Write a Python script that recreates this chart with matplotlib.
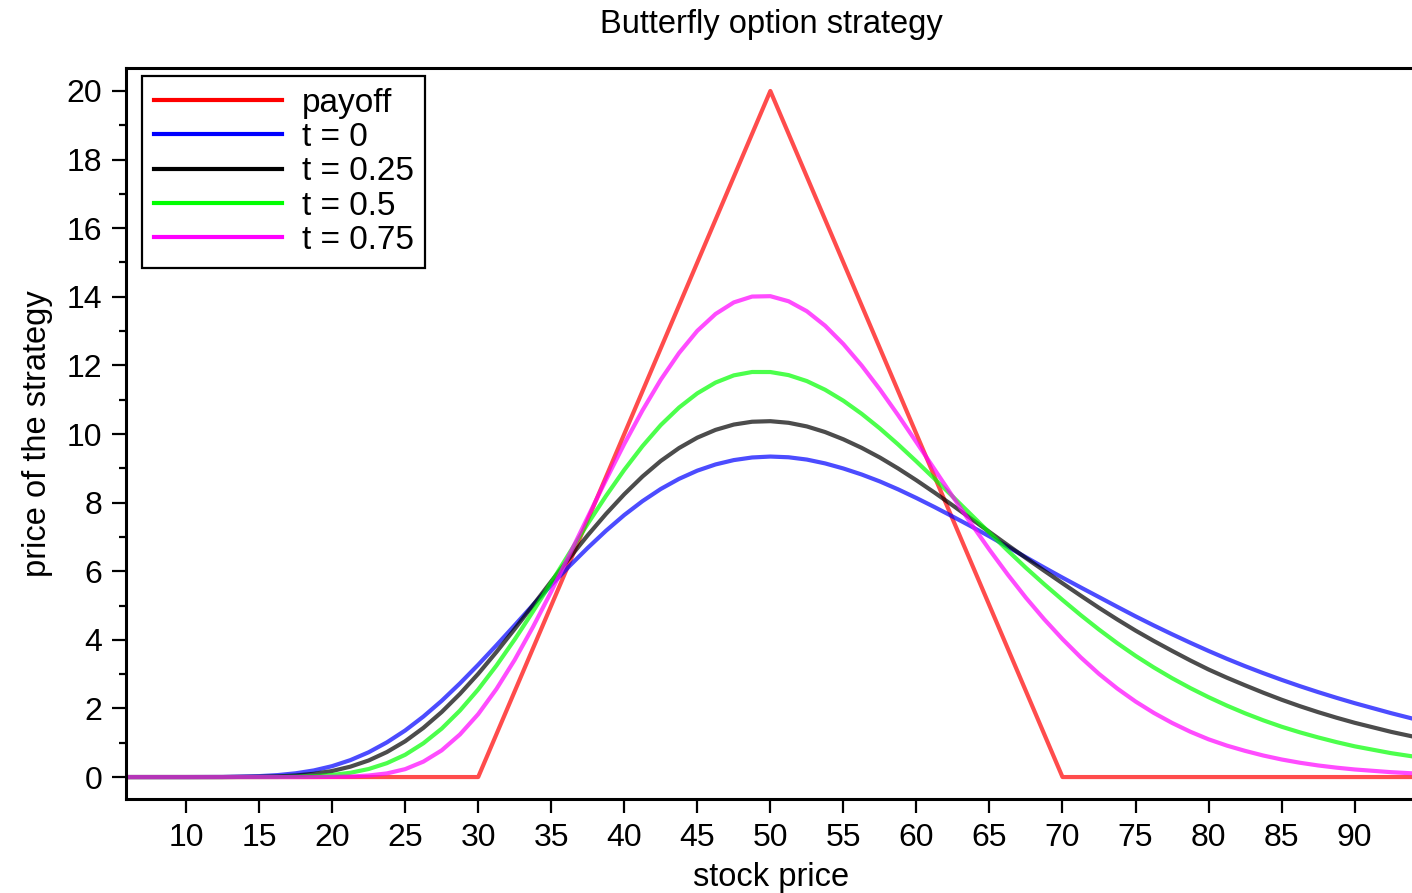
import matplotlib
matplotlib.use("Agg")
import matplotlib.pyplot as plt
from matplotlib.lines import Line2D
import numpy as np

plt.rcParams['font.family'] = ['Liberation Sans', 'DejaVu Sans']

# stock prices where the strategy value was taken
stock = [6, 10, 12.5,
         15, 16.25, 17.5, 18.75, 20, 21.25, 22.5, 23.75, 25, 26.25,
         27.5, 28.75, 30, 31.25, 32.5, 33.75, 35, 36.25, 37.5, 38.75,
         40, 41.25, 42.5, 43.75, 45, 46.25, 47.5, 48.75, 50, 51.25,
         52.5, 53.75, 55, 56.25, 57.5, 58.75, 60, 61.25, 62.5, 63.75,
         65, 66.25, 67.5, 68.75, 70, 71.25, 72.5, 73.75, 75, 76.25,
         77.5, 78.75, 80, 81.25, 82.5, 83.75, 85, 86.25, 87.5, 88.75,
         90, 92.5, 94]

# payoff at expiry (strikes 30 / 50 / 70)
payoff_x = [6, 30, 50, 70, 94]
payoff_y = [0, 0, 20, 0, 0]

price_t0 = [0, 0, 0.003,
            0.027, 0.056, 0.109, 0.193, 0.318, 0.493, 0.722, 1.011, 1.357,
            1.764, 2.222, 2.730, 3.273, 3.842, 4.426, 5.016, 5.597, 6.152,
            6.681, 7.180, 7.638, 8.044, 8.398, 8.693, 8.932, 9.113, 9.240,
            9.316, 9.343, 9.322, 9.255, 9.143, 8.995, 8.820, 8.617, 8.386,
            8.134, 7.868, 7.590, 7.307, 7.016, 6.713, 6.407, 6.107, 5.813,
            5.527, 5.246, 4.963, 4.685, 4.419, 4.163, 3.915, 3.676, 3.448,
            3.232, 3.028, 2.834, 2.650, 2.476, 2.311, 2.154,
            1.862, 1.700]
price_t025 = [0, 0, 0,
              0.008, 0.019, 0.045, 0.094, 0.176, 0.303, 0.483, 0.729, 1.043,
              1.434, 1.895, 2.424, 3.009, 3.645, 4.316, 5.007, 5.703, 6.388,
              7.049, 7.670, 8.244, 8.762, 9.215, 9.591, 9.894, 10.121,
              10.276, 10.358, 10.374, 10.327, 10.221, 10.057, 9.845, 9.597,
              9.314, 8.995, 8.651, 8.289, 7.914, 7.531, 7.144, 6.761, 6.383,
              6.013, 5.649, 5.287, 4.933, 4.594, 4.270, 3.967, 3.679, 3.399,
              3.135, 2.897, 2.674, 2.458, 2.254, 2.066, 1.892, 1.731, 1.582,
              1.317, 1.180]
price_t05 = [0, 0, 0,
             0.001, 0.002, 0.010, 0.025, 0.060, 0.124, 0.234, 0.405, 0.649,
             0.985, 1.411, 1.938, 2.553, 3.250, 4.012, 4.826, 5.671, 6.533,
             7.384, 8.195, 8.955, 9.648, 10.261, 10.772, 11.186, 11.500,
             11.710, 11.808, 11.807, 11.717, 11.543, 11.290, 10.970, 10.590,
             10.162, 9.695, 9.200, 8.690, 8.170, 7.646, 7.122, 6.603, 6.098,
             5.621, 5.163, 4.720, 4.299, 3.903, 3.534, 3.195, 2.882, 2.594,
             2.328, 2.083, 1.858, 1.653, 1.467, 1.303, 1.155, 1.019, 0.896,
             0.696, 0.600]
price_t075 = [0, 0, 0,
              0, 0, 0, 0.001, 0.004, 0.013, 0.045, 0.106, 0.230, 0.450,
              0.778, 1.241, 1.834, 2.567, 3.417, 4.375, 5.407, 6.483, 7.577,
              8.662, 9.710, 10.691, 11.584, 12.361, 13.008, 13.500, 13.837,
              14.007, 14.018, 13.870, 13.579, 13.156, 12.622, 11.997, 11.300,
              10.547, 9.760, 8.964, 8.167, 7.385, 6.626, 5.904, 5.225, 4.599,
              4.021, 3.489, 3.006, 2.580, 2.202, 1.870, 1.578, 1.321, 1.100,
              0.917, 0.763, 0.627, 0.512, 0.417, 0.338, 0.274, 0.221,
              0.142, 0.107]

labels = ['payoff', 't = 0', 't = 0.25', 't = 0.5', 't = 0.75']
colors = ['#ff0000', '#0000ff', '#000000', '#00ff00', '#ff00ff']

fig = plt.figure(figsize=(14.12, 8.93), dpi=100)
ax = fig.add_axes([126 / 1412, 94 / 893, 1290 / 1412, 731 / 893])

ax.plot(payoff_x, payoff_y, color=colors[0], lw=3, alpha=0.7)
for ys, c in zip([price_t0, price_t025, price_t05, price_t075], colors[1:]):
    ax.plot(stock, ys, color=c, lw=3, alpha=0.7)

ax.set_xlim(5.89, 94.2)
ax.set_ylim(-0.64, 20.67)
ax.set_xticks(np.arange(10, 91, 5))
ax.set_yticks(np.arange(0, 21, 2))
ax.set_yticks(np.arange(1, 20, 2), minor=True)

ax.tick_params(axis='both', which='major', direction='out', length=10,
               width=1.6, labelsize=23, pad=7)
ax.tick_params(axis='y', which='minor', direction='out', length=5, width=1.6)
for side in ['left', 'bottom', 'top', 'right']:
    ax.spines[side].set_linewidth(2.2)

ax.set_title('Butterfly option strategy', fontsize=23.5, pad=25)
ax.set_xlabel('stock price', fontsize=23.5, labelpad=7)
ax.set_ylabel('price of the strategy', fontsize=23.5, labelpad=10)

# legend keys drawn without transparency
handles = [Line2D([], [], color=c, lw=3) for c in colors]
leg = ax.legend(handles, labels, loc='upper left', fontsize=24,
                bbox_to_anchor=(16 / 1290, 1 - 8 / 731), borderaxespad=0,
                handlelength=3.84, handletextpad=0.6, labelspacing=0.1,
                borderpad=0.35, fancybox=False, framealpha=1,
                edgecolor='black')
leg.get_frame().set_linewidth(1.6)

fig.savefig('out.png', dpi=100)
